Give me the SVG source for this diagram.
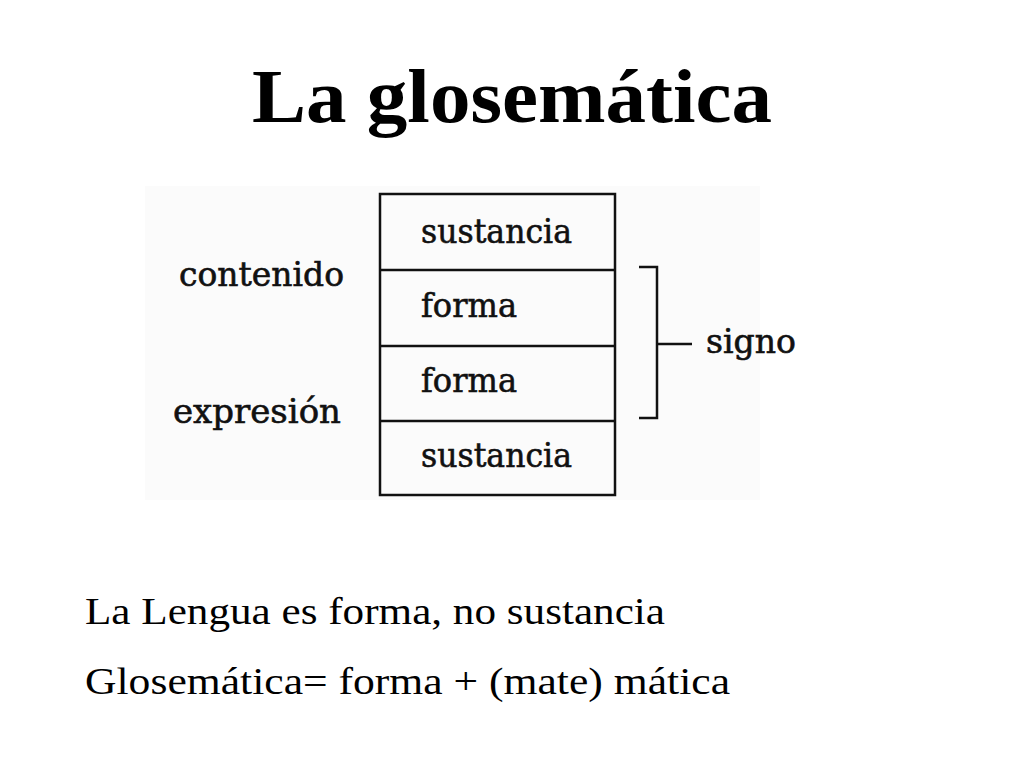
<svg xmlns="http://www.w3.org/2000/svg" width="1024" height="768" viewBox="0 0 1024 768">
<style>
.title{font-family:"Liberation Serif","DejaVu Serif",serif;font-weight:bold;font-size:76px;fill:#000}
.body{font-family:"Liberation Serif","DejaVu Serif",serif;font-size:37px;fill:#000}
.lbl{font-family:"DejaVu Serif","Liberation Serif",serif;font-size:33px;fill:#111;stroke:#111;stroke-width:0.6}
.ln{stroke:#111;stroke-width:2.5;fill:none}
</style>
<rect width="1024" height="768" fill="#fff"/>
<text class="title" x="252" y="122" textLength="520" lengthAdjust="spacingAndGlyphs">La glosemática</text>
<rect x="145" y="186" width="615" height="314" fill="#fbfbfb"/>
<g id="contenido"><text class="lbl" x="179" y="286" textLength="165" lengthAdjust="spacingAndGlyphs">contenido</text></g>
<g id="expresion"><text class="lbl" x="173" y="423" textLength="168" lengthAdjust="spacingAndGlyphs">expresión</text></g>
<g id="box">
<rect class="ln" x="380" y="194" width="235" height="301" fill="#fff"/>
</g>
<g id="sustancia1"><text class="lbl" x="421" y="243" textLength="151" lengthAdjust="spacingAndGlyphs">sustancia</text></g>
<g id="forma1"><text class="lbl" x="421" y="317" textLength="96" lengthAdjust="spacingAndGlyphs">forma</text></g>
<g id="forma2"><text class="lbl" x="421" y="392" textLength="96" lengthAdjust="spacingAndGlyphs">forma</text></g>
<g id="sustancia2"><text class="lbl" x="421" y="467" textLength="151" lengthAdjust="spacingAndGlyphs">sustancia</text></g>
<g id="signo"><text class="lbl" x="706" y="353" textLength="90" lengthAdjust="spacingAndGlyphs">signo</text></g>
<g id="connectors">
<line class="ln" x1="380" y1="270" x2="615" y2="270"/>
<line class="ln" x1="380" y1="346" x2="615" y2="346"/>
<line class="ln" x1="380" y1="421" x2="615" y2="421"/>
<polyline class="ln" points="639,267 657,267 657,418 639,418"/>
<line class="ln" x1="657" y1="344" x2="692" y2="344"/>
</g>
<text class="body" x="85" y="624" textLength="580" lengthAdjust="spacingAndGlyphs">La Lengua es forma, no sustancia</text>
<text class="body" x="85" y="694" textLength="645" lengthAdjust="spacingAndGlyphs">Glosemática= forma + (mate) mática</text>
</svg>
